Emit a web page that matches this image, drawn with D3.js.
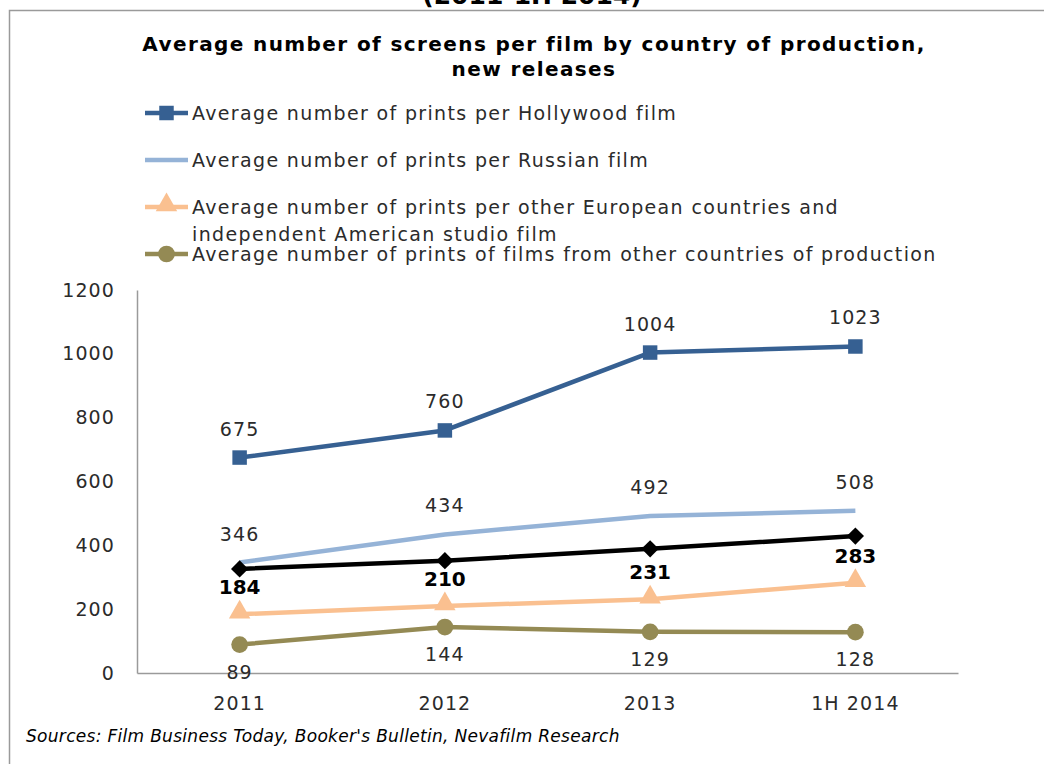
<!DOCTYPE html>
<html>
<head>
<meta charset="utf-8">
<script src="https://cdn.jsdelivr.net/npm/d3@7/dist/d3.min.js"></script>
<style>
  html, body { margin: 0; padding: 0; background: #fff; }
  svg { display: block; }
</style>
</head>
<body>
<svg id="chart" width="1044" height="764"></svg>
<script>
// Periods on the category axis
const periods = ["2011", "2012", "2013", "1H 2014"];

// Average prints per film, by origin of production
const hollywood = [675, 760, 1004, 1023];
const russian = [346, 434, 492, 508];
const otherEuropean = [184, 210, 231, 283];
const otherCountries = [89, 144, 129, 128];
// Overall average across all new releases (no legend entry)
const overallAvg = [326, 352, 389, 429];

const yTicks = [0, 200, 400, 600, 800, 1000, 1200];

const legendLabels = [
  ["Average number of prints per Hollywood film"],
  ["Average number of prints per Russian film"],
  ["Average number of prints per other European countries and", "independent American studio film"],
  ["Average number of prints of films from other countries of production"]
];

const svg = d3.select("#chart");
const font = "'DejaVu Sans', Verdana, sans-serif";
const textColor = "#2b2b2b";
const spacing = 1.1;

// Frame
svg.append("rect")
  .attr("x", 9.5).attr("y", 10.5)
  .attr("width", 1100).attr("height", 800)
  .attr("fill", "none").attr("stroke", "#9a9a9a").attr("stroke-width", 1.5);

// Heading above the frame, mostly outside the page
svg.append("text")
  .attr("x", 532).attr("y", 4)
  .attr("text-anchor", "middle")
  .attr("font-family", font).attr("font-weight", "bold")
  .attr("font-size", 25).attr("fill", "#000")
  .text("(2011-1H 2014)");

// Chart title
const title = svg.append("text")
  .attr("text-anchor", "middle")
  .attr("font-family", font).attr("font-weight", "bold")
  .attr("font-size", 20).attr("letter-spacing", 1.4).attr("fill", "#000");
title.append("tspan").attr("x", 534).attr("y", 51)
  .text("Average number of screens per film by country of production,");
title.append("tspan").attr("x", 534).attr("y", 76)
  .text("new releases");

// Scales
const x = d3.scaleBand().domain(periods).range([137, 958]);
const y = d3.scaleLinear().domain([0, 1200]).range([673, 290]);
const cx = d => x(d) + x.bandwidth() / 2;

// Axes
const yAxis = svg.append("g").attr("transform", "translate(137,0)")
  .call(d3.axisLeft(y).tickValues(yTicks).tickFormat(d3.format("d"))
    .tickSize(0).tickPadding(22));
yAxis.select(".domain").attr("stroke", "#9a9a9a").attr("stroke-width", 1.5);
yAxis.selectAll("text")
  .attr("font-family", font).attr("font-size", 19).attr("fill", textColor)
  .attr("letter-spacing", spacing);

const xAxis = svg.append("g").attr("transform", "translate(0,673)")
  .call(d3.axisBottom(x).tickSize(0).tickPadding(24));
xAxis.select(".domain").attr("stroke", "#9a9a9a").attr("stroke-width", 1.5);
xAxis.selectAll("text")
  .attr("font-family", font).attr("font-size", 19).attr("fill", textColor)
  .attr("letter-spacing", spacing);

const line = d3.line().x((d, i) => cx(periods[i])).y(d => y(d));

const series = [
  { values: hollywood, color: "#366092", marker: "square", label: "above" },
  { values: russian, color: "#95b3d7", marker: null, label: "above" },
  { values: overallAvg, color: "#000000", marker: "diamond", label: null },
  { values: otherEuropean, color: "#fac090", marker: "triangle", label: "bold" },
  { values: otherCountries, color: "#948a54", marker: "circle", label: "below" }
];

const symbolFor = {
  square: d3.symbol().type(d3.symbolSquare).size(210),
  diamond: d3.symbol().type(d3.symbolDiamond2).size(190),
  triangle: d3.symbol().type(d3.symbolTriangle).size(200),
  circle: d3.symbol().type(d3.symbolCircle).size(220)
};

series.forEach(s => {
  svg.append("path")
    .datum(s.values)
    .attr("d", line)
    .attr("fill", "none")
    .attr("stroke", s.color)
    .attr("stroke-width", 4.5)
    .attr("stroke-linejoin", "round");
  if (s.marker) {
    svg.selectAll(null).data(s.values).enter().append("path")
      .attr("d", symbolFor[s.marker])
      .attr("transform", (d, i) => {
        const dy = s.marker === "triangle" ? -2 : 0;
        return `translate(${cx(periods[i])},${y(d) + dy})`;
      })
      .attr("fill", s.color);
  }
});

// Data labels
series.forEach(s => {
  if (!s.label) return;
  const sel = svg.selectAll(null).data(s.values).enter().append("text")
    .attr("x", (d, i) => cx(periods[i]))
    .attr("text-anchor", "middle")
    .attr("font-family", font)
    .text(d => d);
  if (s.label === "above") {
    sel.attr("y", d => y(d) - 22).attr("font-size", 19)
      .attr("letter-spacing", spacing).attr("fill", textColor);
  } else if (s.label === "below") {
    sel.attr("y", d => y(d) + 34).attr("font-size", 19)
      .attr("letter-spacing", spacing).attr("fill", textColor);
  } else {
    sel.attr("y", d => y(d) - 20).attr("font-size", 20)
      .attr("font-weight", "bold").attr("fill", "#000");
  }
});

// Legend
const legendRows = [113, 160, 207, 254];
const legendSeries = [series[0], series[1], series[3], series[4]];
legendSeries.forEach((s, i) => {
  const g = svg.append("g").attr("transform", `translate(0,${legendRows[i]})`);
  g.append("line")
    .attr("x1", 145).attr("x2", 188)
    .attr("stroke", s.color).attr("stroke-width", 4.5);
  if (s.marker) {
    g.append("path")
      .attr("d", symbolFor[s.marker])
      .attr("transform", `translate(166.5,${s.marker === "triangle" ? -2 : 0})`)
      .attr("fill", s.color);
  }
  const t = g.append("text")
    .attr("font-family", font).attr("font-size", 19)
    .attr("letter-spacing", 1.35).attr("fill", textColor);
  legendLabels[i].forEach((ln, k) => {
    t.append("tspan").attr("x", 192).attr("y", 7 + k * 27).text(ln);
  });
});

// Source note
svg.append("text")
  .attr("x", 26).attr("y", 742)
  .attr("font-family", font).attr("font-style", "italic")
  .attr("font-size", 17).attr("letter-spacing", 0.3).attr("fill", "#000")
  .text("Sources: Film Business Today, Booker's Bulletin, Nevafilm Research");
</script>
</body>
</html>
